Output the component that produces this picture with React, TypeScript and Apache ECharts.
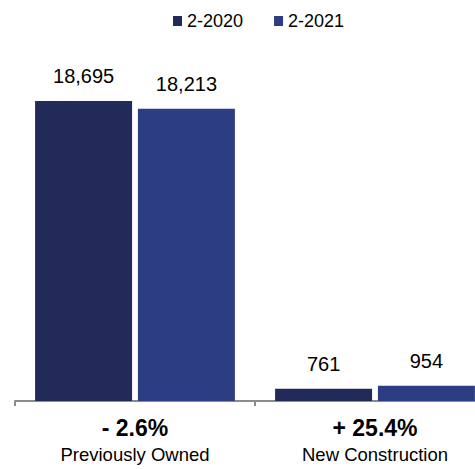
import React, { useEffect, useRef } from "react";
import * as echarts from "echarts";

const categories = ["Previously Owned", "New Construction"];
const changeLabels = ["- 2.6%", "+ 25.4%"];
const seriesNames = ["2-2020", "2-2021"];
const values2020 = [18695, 761];
const values2021 = [18213, 954];
const colors = ["#212a58", "#2d3d82"];

const FONT = "Liberation Sans, Arial, Helvetica, sans-serif";

export default function App() {
  const ref = useRef<HTMLDivElement>(null);
  useEffect(() => {
    if (!ref.current) return;
    const chart = echarts.init(ref.current, undefined, { renderer: "svg" });
    const labelCfg = {
      show: true,
      position: "top",
      distance: 15,
      color: "#000",
      fontSize: 20,
      fontFamily: FONT,
      formatter: (p: any) => Number(p.value).toLocaleString("en-US"),
    };
    chart.setOption({
      animation: false,
      textStyle: { fontFamily: FONT },
      legend: {
        top: 7,
        left: 168,
        itemWidth: 9,
        itemHeight: 10,
        itemGap: 31,
        icon: "rect",
        textStyle: { fontSize: 18, color: "#000", fontFamily: FONT },
        data: seriesNames,
      },
      grid: { left: 15, right: 0, top: 80, bottom: 68, containLabel: false },
      xAxis: {
        type: "category",
        data: categories,
        axisLine: { lineStyle: { color: "#8c8c8c", width: 2 } },
        axisTick: { show: true, length: 5, lineStyle: { color: "#8c8c8c", width: 2 } },
        axisLabel: {
          margin: 12,
          interval: 0,
          formatter: (v: string, i: number) => `{a|${changeLabels[i]}}\n{b|${v}}`,
          rich: {
            a: { fontSize: 23, fontWeight: "bold", color: "#000", fontFamily: FONT, lineHeight: 30 },
            b: { fontSize: 18.5, color: "#000", fontFamily: FONT, lineHeight: 22 },
          },
        },
      },
      yAxis: {
        type: "value",
        min: 0,
        max: 20000,
        show: false,
        splitLine: { show: false },
      },
      series: [
        {
          name: seriesNames[0],
          type: "bar",
          data: values2020,
          barWidth: 97,
          barGap: "6%",
          itemStyle: { color: colors[0] },
          label: labelCfg,
        },
        {
          name: seriesNames[1],
          type: "bar",
          data: values2021,
          barWidth: 97,
          itemStyle: { color: colors[1] },
          label: labelCfg,
        },
      ],
    });
    return () => chart.dispose();
  }, []);
  return (
    <div
      ref={ref}
      style={{ position: "fixed", left: 0, top: 0, width: 495, height: 469, background: "#fff" }}
    />
  );
}
